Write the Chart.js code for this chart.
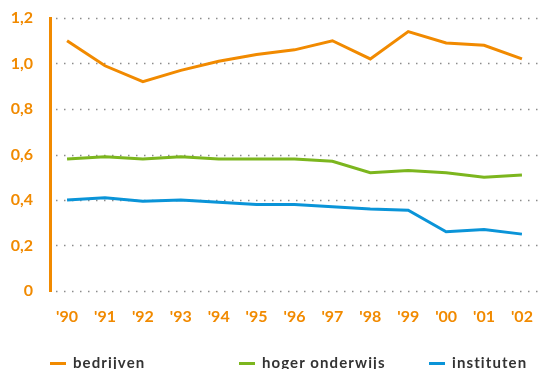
<!DOCTYPE html>
<html>
<head>
<meta charset="utf-8">
<script src="https://cdn.jsdelivr.net/npm/chart.js@4/dist/chart.umd.min.js"></script>
<style>
  html, body { margin: 0; padding: 0; background: #fff; overflow: hidden; }
  #wrap { position: relative; width: 539px; height: 369px; }
  #c { position: absolute; left: 0; top: 0; }
  .lg { position: absolute; top: 353px; height: 18px; line-height: 18px;
        font-family: Lato, sans-serif; font-weight: 700; font-size: 15px;
        letter-spacing: 1.1px; color: #333; white-space: nowrap; }
  .lg i { position: absolute; top: 9px; left: -23px; width: 16px; height: 3px; }
</style>
</head>
<body>
<div id="wrap">
  <canvas id="c" width="539" height="369"></canvas>
  <div id="legend"></div>
</div>
<script>
// R&D-uitgaven als percentage van het bbp, 1990-2002
const years = ["'90","'91","'92","'93","'94","'95","'96","'97","'98","'99","'00","'01","'02"];
const bedrijven      = [1.10, 0.99, 0.92, 0.97, 1.01, 1.04, 1.06, 1.10, 1.02, 1.14, 1.09, 1.08, 1.02];
const hogerOnderwijs = [0.58, 0.59, 0.58, 0.59, 0.58, 0.58, 0.58, 0.57, 0.52, 0.53, 0.52, 0.50, 0.51];
const instituten     = [0.40, 0.41, 0.395, 0.40, 0.39, 0.38, 0.38, 0.37, 0.36, 0.355, 0.26, 0.27, 0.25];
const yTicks = [0, 0.2, 0.4, 0.6, 0.8, 1.0, 1.2];
const seriesNames = ['bedrijven', 'hoger onderwijs', 'instituten'];

const ORANGE = '#f18a00', GREEN = '#7cb61e', BLUE = '#0a94d8';
const colors = [ORANGE, GREEN, BLUE];
const seriesData = [bedrijven, hogerOnderwijs, instituten];

const toPoints = arr => arr.map((v, i) => ({ x: i, y: v }));

// dotted horizontal grid lines, starting just right of the y axis
const dottedGrid = {
  id: 'dottedGrid',
  beforeDatasetsDraw(chart) {
    const { ctx, chartArea, scales } = chart;
    ctx.save();
    ctx.strokeStyle = '#8c8c8c';
    ctx.lineWidth = 1.5;
    ctx.setLineDash([1.5, 6.5]);
    yTicks.forEach(v => {
      const y = Math.round(scales.y.getPixelForValue(v)) + 0.5;
      ctx.beginPath();
      ctx.moveTo(chartArea.left + 6, y);
      ctx.lineTo(chartArea.right, y);
      ctx.stroke();
    });
    ctx.restore();
  }
};

new Chart(document.getElementById('c'), {
  type: 'line',
  data: {
    datasets: seriesData.map((arr, k) => ({
      label: seriesNames[k],
      data: toPoints(arr),
      borderColor: colors[k],
      borderWidth: 3,
      pointRadius: 0,
      tension: 0,
      fill: false
    }))
  },
  options: {
    responsive: false,
    animation: false,
    layout: { padding: { top: 18, right: 0, bottom: 0, left: 0 } },
    plugins: { legend: { display: false }, tooltip: { enabled: false } },
    scales: {
      x: {
        type: 'linear',
        min: -0.45,
        max: 12.45,
        afterBuildTicks: s => { s.ticks = years.map((_, i) => ({ value: i })); },
        afterFit: s => { s.height = 78; s.paddingLeft = 0; s.paddingRight = 0; },
        grid: { display: false, drawTicks: false },
        border: { display: false },
        ticks: {
          padding: 16,
          color: ORANGE,
          font: { family: 'Lato', weight: 'bold', size: 16 },
          callback: v => years[v],
          maxRotation: 0,
          autoSkip: false
        }
      },
      y: {
        min: 0,
        max: 1.2,
        afterBuildTicks: s => { s.ticks = yTicks.map(v => ({ value: v })); },
        afterFit: s => { s.width = 50; s.paddingTop = 0; s.paddingBottom = 0; },
        grid: { display: false, drawTicks: false },
        border: { display: true, color: ORANGE, width: 3 },
        ticks: {
          padding: 17,
          color: ORANGE,
          font: { family: 'Lato', weight: 'bold', size: 16 },
          callback: v => v === 0 ? '0' : v.toFixed(1).replace('.', ',')
        }
      }
    }
  },
  plugins: [dottedGrid]
});

// legend below the chart
const legendLeft = [73, 262, 452];
const legend = document.getElementById('legend');
seriesNames.forEach((name, k) => {
  const d = document.createElement('div');
  d.className = 'lg';
  d.style.left = legendLeft[k] + 'px';
  d.innerHTML = '<i style="background:' + colors[k] + '"></i>' + name;
  legend.appendChild(d);
});
</script>
</body>
</html>
